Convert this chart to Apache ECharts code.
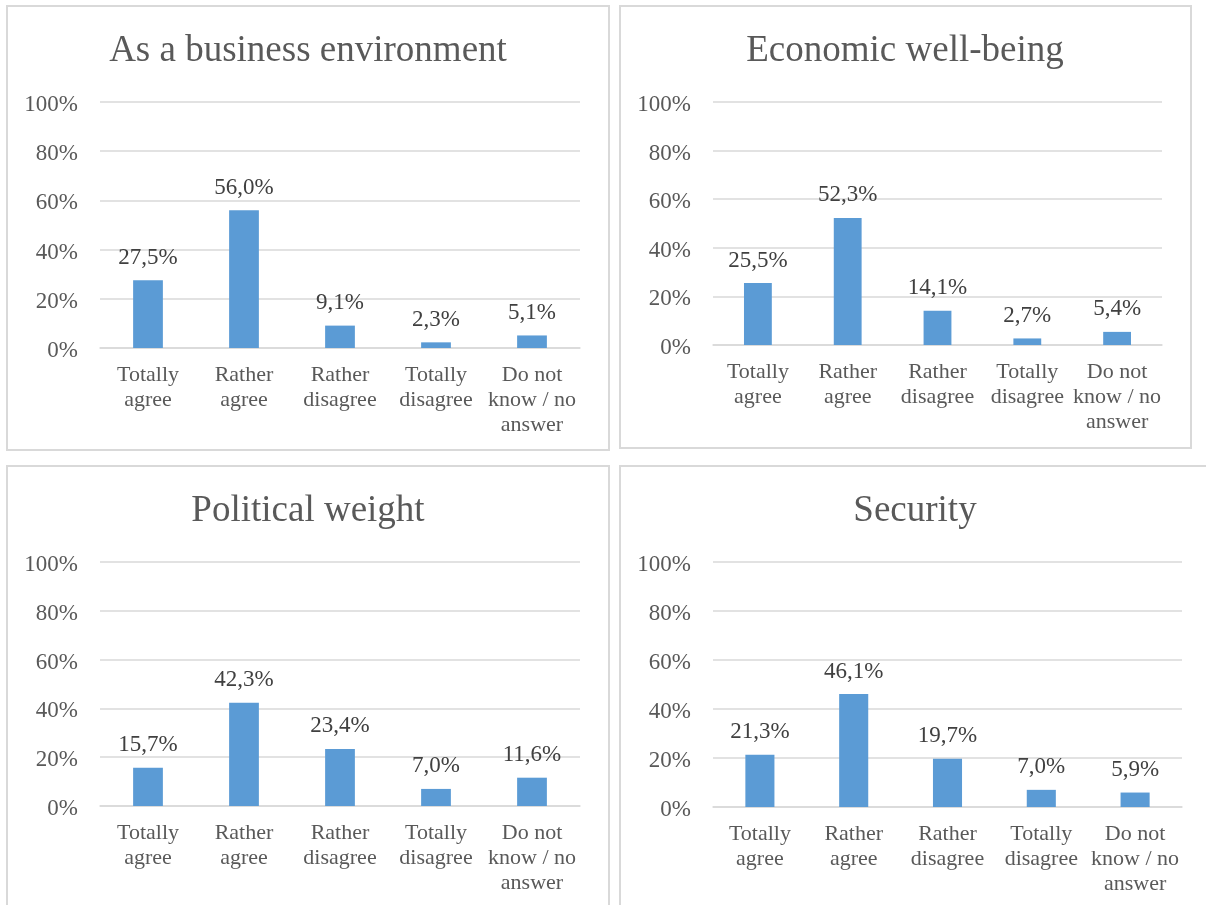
<!DOCTYPE html>
<html>
<head>
<meta charset="utf-8">
<script src="https://cdn.jsdelivr.net/npm/echarts@6/dist/echarts.min.js"></script>
<style>
  html, body { margin: 0; padding: 0; background: #ffffff; }
  #chart { width: 1206px; height: 905px; }
</style>
</head>
<body>
<div id="chart"></div>
<script>
// Answer categories (shared by all four panels)
const categories = ['Totally\nagree', 'Rather\nagree', 'Rather\ndisagree', 'Totally\ndisagree', 'Do not\nknow / no\nanswer'];

// Panel titles
const titles = ['As a business environment', 'Economic well-being', 'Political weight', 'Security'];

// Share of respondents per answer, in percent
const businessEnvironment = [27.5, 56.0, 9.1, 2.3, 5.1];
const economicWellBeing   = [25.5, 52.3, 14.1, 2.7, 5.4];
const politicalWeight     = [15.7, 42.3, 23.4, 7.0, 11.6];
const security            = [21.3, 46.1, 19.7, 7.0, 5.9];

// Value axis ticks
const yTicks = { min: 0, max: 100, interval: 20 };

const panelData = [businessEnvironment, economicWellBeing, politicalWeight, security];

// Layout of each panel: frame, plot area, title anchor
const panels = [
  { frame: [7, 6, 602, 444],   grid: { left: 100, top: 102, width: 480, height: 246 }, titleX: 308, titleY: 51 },
  { frame: [620, 6, 571, 442], grid: { left: 713, top: 102, width: 449, height: 243 }, titleX: 905, titleY: 51 },
  { frame: [7, 466, 602, 470], grid: { left: 100, top: 562, width: 480, height: 244 }, titleX: 308, titleY: 511 },
  { frame: [620, 466, 620, 470], grid: { left: 713, top: 562, width: 469, height: 245 }, titleX: 915, titleY: 511 }
];

const FONT = "'Liberation Serif', 'Times New Roman', serif";
const TEXT = '#595959';
const LINE = '#d9d9d9';
const BAR = '#5b9bd5';

const fmtPct = v => v.toFixed(1).replace('.', ',') + '%';

const option = {
  backgroundColor: '#ffffff',
  animation: false,
  textStyle: { fontFamily: FONT },
  grid: panels.map(p => Object.assign({ containLabel: false }, p.grid)),
  xAxis: panels.map((p, i) => ({
    type: 'category',
    gridIndex: i,
    data: categories,
    axisLine: { show: true, lineStyle: { color: LINE, width: 1.5 } },
    axisTick: { show: false },
    axisLabel: {
      color: TEXT, fontFamily: FONT, fontSize: 22, lineHeight: 25,
      margin: 15, interval: 0
    }
  })),
  yAxis: panels.map((p, i) => ({
    type: 'value',
    gridIndex: i,
    min: yTicks.min, max: yTicks.max, interval: yTicks.interval,
    axisLine: { show: false },
    axisTick: { show: false },
    splitLine: { lineStyle: { color: LINE, width: 1.5 } },
    axisLabel: {
      color: TEXT, fontFamily: FONT, fontSize: 23, margin: 22,
      // a short line box hung from the tick nudges the glyphs slightly below it
      verticalAlign: 'top', lineHeight: 6,
      formatter: '{value}%'
    }
  })),
  series: panels.map((p, i) => ({
    type: 'bar',
    xAxisIndex: i,
    yAxisIndex: i,
    data: panelData[i],
    barWidth: '31%',
    itemStyle: { color: BAR },
    label: {
      show: true, position: 'top', distance: 11,
      color: '#404040', fontFamily: FONT, fontSize: 23,
      formatter: prm => fmtPct(prm.value)
    }
  })),
  graphic: [].concat(
    panels.map(p => ({
      type: 'rect',
      shape: { x: p.frame[0], y: p.frame[1], width: p.frame[2], height: p.frame[3] },
      style: { fill: 'none', stroke: LINE, lineWidth: 2 },
      silent: true
    })),
    panels.map((p, i) => ({
      type: 'text',
      x: p.titleX, y: p.titleY,
      style: {
        text: titles[i], fill: TEXT, fontSize: 37, fontFamily: FONT,
        textAlign: 'center', textVerticalAlign: 'middle'
      },
      silent: true
    }))
  )
};

const chart = echarts.init(document.getElementById('chart'), null, { renderer: 'canvas' });
chart.setOption(option);
</script>
</body>
</html>
